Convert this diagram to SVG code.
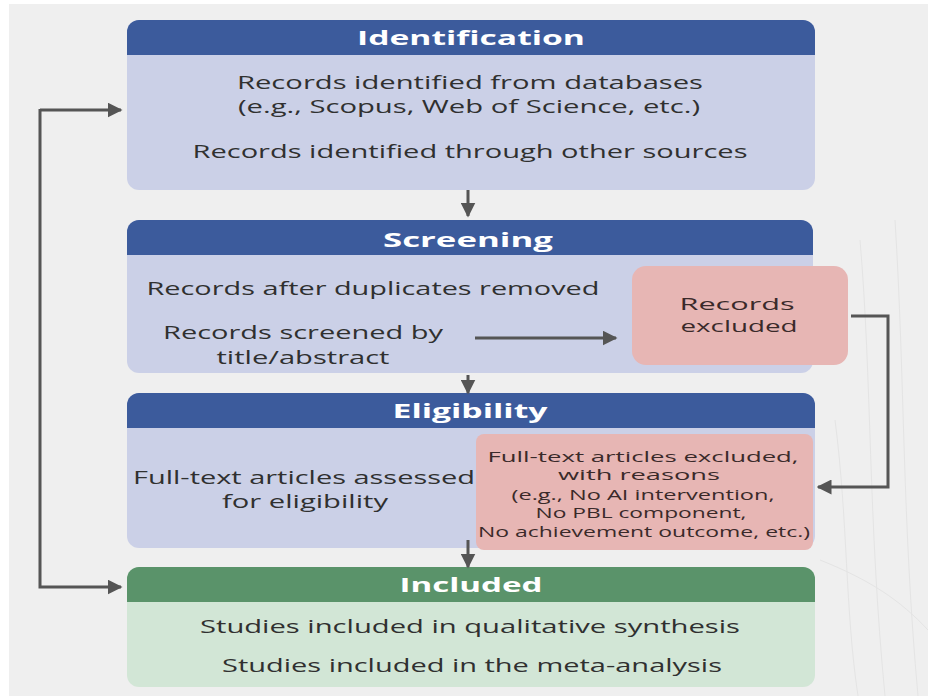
<svg xmlns="http://www.w3.org/2000/svg" width="928" height="696" viewBox="0 0 928 696">
  <defs>
    <marker id="arrow" viewBox="0 0 10 10" refX="9" refY="5" markerWidth="5" markerHeight="5" orient="auto" markerUnits="strokeWidth">
      <path d="M0,0 L10,5 L0,10 Z" fill="#555555"/>
    </marker>
  </defs>
  <style>
    text { font-family: "Open Sans", "Noto Sans", "DejaVu Sans", sans-serif; }
    .hdr { font-size: 20px; font-weight: bold; fill: #ffffff; text-anchor: middle; }
    .txt { font-size: 19px; fill: #303030; text-anchor: middle; }
    .pair { font-size: 18px; fill: #303030; text-anchor: middle; }
    .small { font-size: 17px; fill: #3a2a2a; text-anchor: middle; }
    .tiny { font-size: 14px; fill: #3a2a2a; text-anchor: middle; }
    .body-blue { fill: #cbd0e7; }
    .head-blue { fill: #3c5b9c; }
    .body-green { fill: #d2e6d6; }
    .head-green { fill: #5a936a; }
    .excl { fill: #e7b6b4; }
    .conn { fill: none; stroke: #555555; stroke-width: 3; }
  </style>

  <!-- page background -->
  <rect x="0" y="0" width="928" height="696" fill="#ffffff"/>
  <rect x="9" y="4" width="919" height="692" fill="#efefef"/>
  <g stroke="#e4e4e4" stroke-width="1" fill="none">
    <path d="M860 240 C872 380 868 520 885 696"/>
    <path d="M895 220 C905 380 902 520 918 696"/>
    <path d="M835 420 C848 520 845 610 858 696"/>
    <path d="M820 560 C870 580 900 600 928 630"/>
  </g>

  <!-- Identification -->
  <g id="identification">
    <rect class="body-blue" x="127" y="20" width="688" height="170" rx="12"/>
    <path class="head-blue" d="M127 55 V32 A12 12 0 0 1 139 20 H803 A12 12 0 0 1 815 32 V55 Z"/>
    <text class="hdr" x="471" y="45" textLength="228" lengthAdjust="spacingAndGlyphs">Identification</text>
    <text class="pair" x="470" y="89" textLength="466" lengthAdjust="spacingAndGlyphs">Records identified from databases</text>
    <text class="pair" x="469" y="113" textLength="462" lengthAdjust="spacingAndGlyphs">(e.g., Scopus, Web of Science, etc.)</text>
    <text class="txt" x="470" y="158" textLength="555" lengthAdjust="spacingAndGlyphs">Records identified through other sources</text>
  </g>

  <!-- Screening -->
  <g id="screening">
    <rect class="body-blue" x="127" y="220" width="686" height="153" rx="12"/>
    <path class="head-blue" d="M127 255 V232 A12 12 0 0 1 139 220 H801 A12 12 0 0 1 813 232 V255 Z"/>
    <text class="hdr" x="468" y="247" textLength="170" lengthAdjust="spacingAndGlyphs">Screening</text>
    <text class="txt" x="373" y="295" textLength="453" lengthAdjust="spacingAndGlyphs">Records after duplicates removed</text>
    <text class="txt" x="303" y="339" textLength="280" lengthAdjust="spacingAndGlyphs">Records screened by</text>
    <text class="txt" x="303" y="364" textLength="173" lengthAdjust="spacingAndGlyphs">title/abstract</text>
  </g>

  <!-- Records excluded -->
  <g id="records-excluded">
    <rect class="excl" x="632" y="266" width="216" height="99" rx="14"/>
    <text class="small" x="737" y="310" textLength="115" lengthAdjust="spacingAndGlyphs">Records</text>
    <text class="small" x="739" y="332" textLength="117" lengthAdjust="spacingAndGlyphs">excluded</text>
  </g>

  <!-- Eligibility -->
  <g id="eligibility">
    <rect class="body-blue" x="127" y="393" width="688" height="155" rx="12"/>
    <path class="head-blue" d="M127 428 V405 A12 12 0 0 1 139 393 H803 A12 12 0 0 1 815 405 V428 Z"/>
    <text class="hdr" x="470" y="418" textLength="155" lengthAdjust="spacingAndGlyphs">Eligibility</text>
    <text class="pair" x="304" y="484" textLength="342" lengthAdjust="spacingAndGlyphs">Full-text articles assessed</text>
    <text class="pair" x="305" y="508" textLength="166" lengthAdjust="spacingAndGlyphs">for eligibility</text>
  </g>

  <!-- Full-text articles excluded -->
  <g id="fulltext-excluded">
    <rect class="excl" x="476" y="434" width="337" height="116" rx="8"/>
    <text class="tiny" x="643" y="462" textLength="311" lengthAdjust="spacingAndGlyphs">Full-text articles excluded,</text>
    <text class="tiny" x="639" y="480" textLength="162" lengthAdjust="spacingAndGlyphs">with reasons</text>
    <text class="tiny" x="643" y="500" textLength="263" lengthAdjust="spacingAndGlyphs">(e.g., No AI intervention,</text>
    <text class="tiny" x="641" y="518" textLength="211" lengthAdjust="spacingAndGlyphs">No PBL component,</text>
    <text class="tiny" x="644" y="537" textLength="332" lengthAdjust="spacingAndGlyphs">No achievement outcome, etc.)</text>
  </g>

  <!-- Included -->
  <g id="included">
    <rect class="body-green" x="127" y="567" width="688" height="120" rx="12"/>
    <path class="head-green" d="M127 602 V579 A12 12 0 0 1 139 567 H803 A12 12 0 0 1 815 579 V602 Z"/>
    <text class="hdr" x="471" y="592" textLength="143" lengthAdjust="spacingAndGlyphs">Included</text>
    <text class="txt" x="470" y="633" textLength="540" lengthAdjust="spacingAndGlyphs">Studies included in qualitative synthesis</text>
    <text class="txt" x="472" y="672" textLength="500" lengthAdjust="spacingAndGlyphs">Studies included in the meta-analysis</text>
  </g>

  <!-- Connectors -->
  <g id="connectors" class="conn">
    <path d="M468 190 V216" marker-end="url(#arrow)"/>
    <path d="M468 375 V393" marker-end="url(#arrow)"/>
    <path d="M468 540 V567" marker-end="url(#arrow)"/>
    <path d="M475 338 H616" marker-end="url(#arrow)"/>
    <path d="M851 316 H888 V487 H818" marker-end="url(#arrow)"/>
    <path d="M40 110 H121" marker-end="url(#arrow)"/>
    <path d="M40 109 V587 H121" marker-end="url(#arrow)"/>
  </g>
</svg>
